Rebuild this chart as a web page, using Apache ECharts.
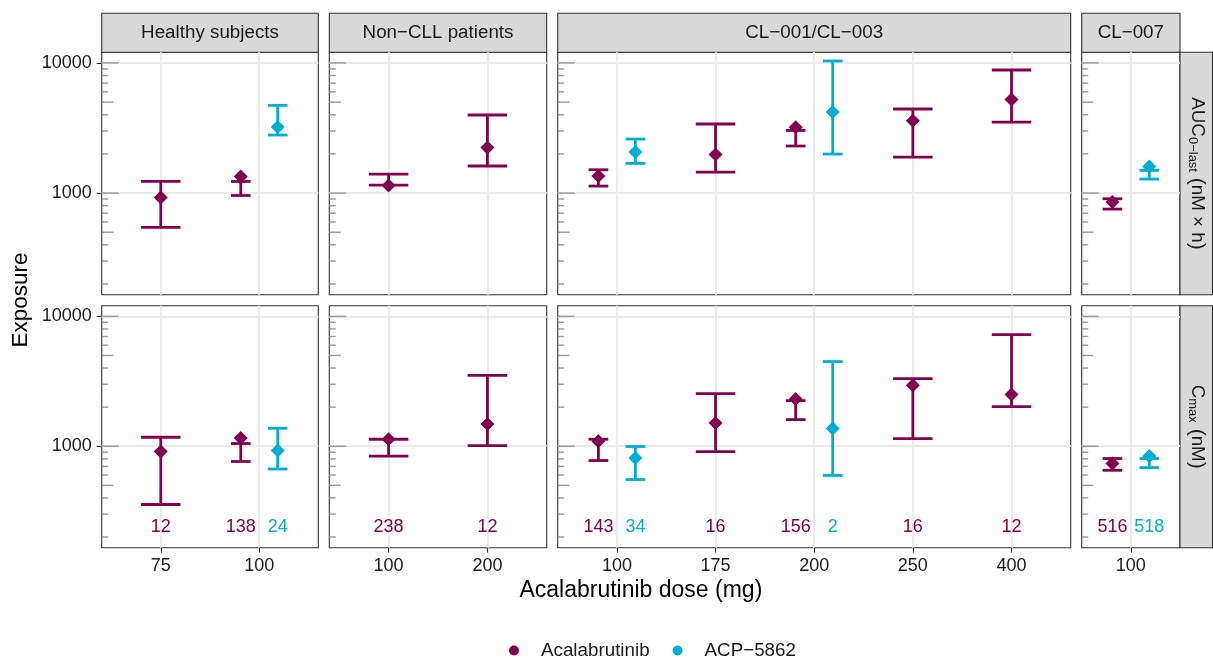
<!DOCTYPE html>
<html>
<head>
<meta charset="utf-8">
<script src="https://cdn.jsdelivr.net/npm/echarts@6/dist/echarts.min.js"></script>
<style>
html, body { margin: 0; padding: 0; background: #fff; }
#chart { width: 1213px; height: 658px; }
</style>
</head>
<body>
<div id="chart"></div>
<script>
const facets = ['Healthy subjects', 'Non−CLL patients', 'CL−001/CL−003', 'CL−007'];
const doses = [['75', '100'], ['100', '200'], ['100', '175', '200', '250', '400'], ['100']];
const compounds = ['Acalabrutinib', 'ACP−5862'];

// [facet, dose, mean, lower, upper]
const aucAcal = [
  [0, '75', 925, 544, 1228],
  [0, '100', 1340, 958, 1228],
  [1, '100', 1145, 1150, 1399],
  [1, '200', 2244, 1614, 3981],
  [2, '100', 1351, 1132, 1511],
  [2, '175', 1982, 1451, 3397],
  [2, '200', 3200, 2300, 3030],
  [2, '250', 3596, 1892, 4427],
  [2, '400', 5248, 3516, 8833],
  [3, '100', 853, 753, 904]
];
const aucAcp = [
  [0, '100', 3223, 2794, 4722],
  [2, '100', 2066, 1690, 2601],
  [2, '200', 4199, 1995, 10355],
  [3, '100', 1602, 1281, 1493]
];
const cmaxAcal = [
  [0, '75', 910, 356, 1173],
  [0, '100', 1158, 763, 1049],
  [1, '100', 1132, 838, 1132],
  [1, '200', 1485, 1012, 3516],
  [2, '100', 1093, 776, 1132],
  [2, '175', 1511, 910, 2541],
  [2, '200', 2311, 1603, 2245],
  [2, '250', 2943, 1146, 3320],
  [2, '400', 2500, 2019, 7227],
  [3, '100', 736, 653, 804]
];
const cmaxAcp = [
  [0, '100', 927, 668, 1375],
  [2, '100', 813, 554, 995],
  [2, '200', 1368, 596, 4487],
  [3, '100', 842, 685, 804]
];
// [facet, dose, n]
const nAcal = [[0, '75', 12], [0, '100', 138], [1, '100', 238], [1, '200', 12], [2, '100', 143],
  [2, '175', 16], [2, '200', 156], [2, '250', 16], [2, '400', 12], [3, '100', 516]];
const nAcp = [[0, '100', 24], [2, '100', 34], [2, '200', 2], [3, '100', 518]];

const yTicks = [1000, 10000];
const logTicks = [200, 300, 400, 500, 600, 700, 800, 900, 1000,
  2000, 3000, 4000, 5000, 6000, 7000, 8000, 9000, 10000];

const colors = ['#830051', '#00AED2'];
const FONT = "'Liberation Sans', Arial, sans-serif";

// panel layout (px)
const colX = [[101.7, 318.3], [329.3, 546.7], [557.7, 1070.7], [1081.7, 1180]];
const rowY = [[52.3, 294.7], [305.7, 547.7]];
const xRange = [[0.4, 2.6], [0.4, 2.6], [0.4, 5.6], [0.5, 1.5]];
const yMin = 165.5, yMax = 12080;
const nLabelY = 240;

const rowsData = [[aucAcal, aucAcp], [cmaxAcal, cmaxAcp]];
const nData = [nAcal, nAcp];

function hasBoth(c, dose) {
  return nAcal.some(d => d[0] === c && d[1] === dose) && nAcp.some(d => d[0] === c && d[1] === dose);
}
function xPos(c, dose, k) {
  const i = doses[c].indexOf(dose) + 1;
  return hasBoth(c, dose) ? i + (k === 0 ? -0.1875 : 0.1875) : i;
}

const grids = [], xAxes = [], yAxes = [], series = [], graphics = [];

for (let r = 0; r < 2; r++) {
  for (let c = 0; c < 4; c++) {
    const gi = r * 4 + c;
    const catVals = doses[c].map((d, i) => i + 1);
    grids.push({
      left: colX[c][0], top: rowY[r][0],
      width: colX[c][1] - colX[c][0], height: rowY[r][1] - rowY[r][0],
      show: true, backgroundColor: '#fff', borderColor: '#333', borderWidth: 1.1
    });
    xAxes.push({
      gridIndex: gi, type: 'value', min: xRange[c][0], max: xRange[c][1],
      axisLine: { show: false },
      axisTick: { show: r === 1, customValues: catVals, length: 5, lineStyle: { color: '#333', width: 1.1 } },
      axisLabel: {
        show: r === 1, customValues: catVals, margin: 9, fontSize: 18, color: '#1a1a1a', fontFamily: FONT,
        formatter: v => doses[c][Math.round(v) - 1]
      },
      splitLine: { show: true, lineStyle: { color: '#EBEBEB', width: 2 } }
    });
    yAxes.push({
      gridIndex: gi, type: 'log', logBase: 10, min: yMin, max: yMax,
      axisLine: { show: false },
      axisTick: { show: c === 0, customValues: yTicks, length: 5, lineStyle: { color: '#333', width: 1.1 } },
      axisLabel: {
        show: c === 0, customValues: yTicks, margin: 10, fontSize: 18, color: '#1a1a1a', fontFamily: FONT,
        formatter: v => String(Math.round(v))
      },
      splitLine: { show: true, lineStyle: { color: '#EBEBEB', width: 2 } }
    });

    // log ticks inside the panel
    series.push({
      type: 'custom', xAxisIndex: gi, yAxisIndex: gi, silent: true, z: 1,
      data: logTicks.map(v => [xRange[c][0], v]),
      renderItem: (p, api) => {
        const v = api.value(1);
        const pt = api.coord([api.value(0), v]);
        const lead = Math.round(v / Math.pow(10, Math.floor(Math.log10(v) + 1e-9)));
        const len = lead === 1 ? 17 : (lead === 5 ? 11.5 : 6.5);
        return {
          type: 'line', shape: { x1: pt[0], y1: pt[1], x2: pt[0] + len, y2: pt[1] },
          style: { stroke: '#9E9E9E', lineWidth: 1.5 }
        };
      }
    });

    for (let k = 0; k < 2; k++) {
      const rows = rowsData[r][k].filter(d => d[0] === c);
      if (!rows.length) continue;
      series.push({
        type: 'custom', name: compounds[k], xAxisIndex: gi, yAxisIndex: gi, z: 3,
        itemStyle: { color: colors[k] },
        data: rows.map(d => [xPos(c, d[1], k), d[3], d[4], hasBoth(c, d[1]) ? 0.1 : 0.2]),
        renderItem: (p, api) => {
          const x = api.value(0), lo = api.value(1), hi = api.value(2), h = api.value(3);
          const pLo = api.coord([x, lo]), pHi = api.coord([x, hi]);
          const half = (api.coord([x + h, lo])[0] - api.coord([x - h, lo])[0]) / 2;
          const st = { stroke: colors[k], lineWidth: 2.8 };
          return {
            type: 'group', children: [
              { type: 'line', shape: { x1: pLo[0], y1: pLo[1], x2: pHi[0], y2: pHi[1] }, style: st },
              { type: 'line', shape: { x1: pLo[0] - half, y1: pLo[1], x2: pLo[0] + half, y2: pLo[1] }, style: st },
              { type: 'line', shape: { x1: pHi[0] - half, y1: pHi[1], x2: pHi[0] + half, y2: pHi[1] }, style: st }
            ]
          };
        }
      });
      series.push({
        type: 'scatter', name: compounds[k], xAxisIndex: gi, yAxisIndex: gi, z: 4,
        symbol: 'diamond', symbolSize: 14,
        itemStyle: { color: colors[k], opacity: 1 },
        data: rows.map(d => [xPos(c, d[1], k), d[2]])
      });
      if (r === 1) {
        const ns = nData[k].filter(d => d[0] === c);
        series.push({
          type: 'custom', name: compounds[k], xAxisIndex: gi, yAxisIndex: gi, z: 4, silent: true,
          itemStyle: { color: colors[k] },
          data: ns.map(d => [xPos(c, d[1], k), nLabelY, d[2]]),
          renderItem: (p, api) => {
            const pt = api.coord([api.value(0), api.value(1)]);
            return {
              type: 'text', x: pt[0], y: pt[1],
              style: {
                text: String(api.value(2)), fill: colors[k], font: '18px ' + FONT,
                align: 'center', verticalAlign: 'middle'
              }
            };
          }
        });
      }
    }
  }
}

// facet strips
facets.forEach((f, c) => {
  graphics.push({
    type: 'rect', shape: { x: colX[c][0], y: 13.3, width: colX[c][1] - colX[c][0], height: 39 },
    style: { fill: '#D9D9D9', stroke: '#333', lineWidth: 1.1 }
  });
  graphics.push({
    type: 'text', x: (colX[c][0] + colX[c][1]) / 2, y: 32.8,
    style: { text: f, fill: '#1a1a1a', font: '18.8px ' + FONT, align: 'center', verticalAlign: 'middle' }
  });
});
const rowLabels = ['{n|AUC}{s|0−last}{p| (}{n|nM × h}{p|)}', '{n|C}{s|max}{p| (}{n|nM}{p|)}'];
rowLabels.forEach((t, r) => {
  graphics.push({
    type: 'rect', shape: { x: 1180, y: rowY[r][0], width: 32.5, height: rowY[r][1] - rowY[r][0] },
    style: { fill: '#D9D9D9', stroke: '#333', lineWidth: 1.1 }
  });
  graphics.push({
    type: 'text', x: 1197, y: (rowY[r][0] + rowY[r][1]) / 2, rotation: -Math.PI / 2,
    style: {
      text: t, align: 'center', verticalAlign: 'middle', fill: '#1a1a1a',
      rich: {
        n: { fontSize: 18.8, fontFamily: FONT, fill: '#1a1a1a' },
        p: { fontSize: 21, fontFamily: FONT, fill: '#1a1a1a' },
        s: { fontSize: 13, fontFamily: FONT, fill: '#1a1a1a', padding: [9, 0, 0, 0] }
      }
    }
  });
});
graphics.push({
  type: 'text', x: 21, y: 300, rotation: Math.PI / 2,
  style: { text: 'Exposure', fill: '#000', font: '22.5px ' + FONT, align: 'center', verticalAlign: 'middle' }
});
graphics.push({
  type: 'text', x: (colX[0][0] + colX[3][1]) / 2, y: 591,
  style: { text: 'Acalabrutinib dose (mg)', fill: '#000', font: '23px ' + FONT, align: 'center', verticalAlign: 'middle' }
});

const chart = echarts.init(document.getElementById('chart'));
chart.setOption({
  animation: false,
  backgroundColor: '#fff',
  textStyle: { fontFamily: FONT },
  grid: grids,
  xAxis: xAxes,
  yAxis: yAxes,
  legend: {
    data: compounds, icon: 'circle', itemWidth: 44, itemHeight: 10, itemGap: 23,
    left: 509, top: 641, padding: 0,
    textStyle: { fontSize: 18.8, color: '#1a1a1a', fontFamily: FONT }
  },
  graphic: graphics,
  series: series
});
</script>
</body>
</html>
